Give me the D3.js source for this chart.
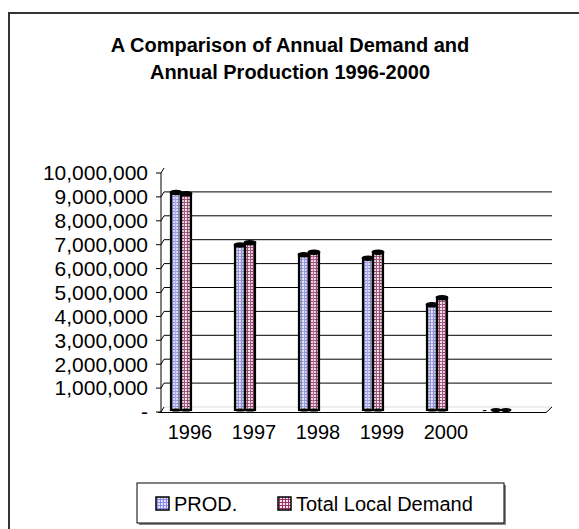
<!DOCTYPE html>
<html><head><meta charset="utf-8">
<script src="https://cdn.jsdelivr.net/npm/d3@7"></script>
<style>body{margin:0;background:#fff}svg{display:block;font-family:"Liberation Sans",Arial,sans-serif}</style>
</head><body><svg id="c" width="579" height="529"></svg>
<script>
const categories = ["1996","1997","1998","1999","2000",""];
const prod = [9100000, 6900000, 6500000, 6350000, 4400000, 0];
const demand = [9050000, 7000000, 6600000, 6600000, 4700000, 0];
const seriesNames = ["PROD.", "Total Local Demand"];
const yTicks = [0,1000000,2000000,3000000,4000000,5000000,6000000,7000000,8000000,9000000,10000000];
const titleLines = ["A Comparison of Annual Demand and","Annual Production 1996-2000"];

const svg = d3.select("#c");
const defs = svg.append("defs");
function pat(id, bg, fg){
  const p = defs.append("pattern").attr("id",id).attr("width",3).attr("height",3).attr("patternUnits","userSpaceOnUse");
  p.append("rect").attr("width",3).attr("height",3).attr("fill",bg);
  p.append("rect").attr("x",1).attr("y",0).attr("width",1).attr("height",3).attr("fill",fg);
  p.append("rect").attr("x",0).attr("y",1).attr("width",3).attr("height",1).attr("fill",fg);
}
pat("pProd","#e4e4ea","#8a8af5");
pat("pDem","#f2e6ec","#993366");
const colors = ["url(#pProd)","url(#pDem)"];
const shade = defs.append("linearGradient").attr("id","shade");
shade.append("stop").attr("offset","0").attr("stop-color","#000").attr("stop-opacity",0.15);
shade.append("stop").attr("offset","0.45").attr("stop-color","#fff").attr("stop-opacity",0.25);
shade.append("stop").attr("offset","1").attr("stop-color","#000").attr("stop-opacity",0.2);

// outer frame
svg.append("rect").attr("x",9).attr("y",13).attr("width",620).attr("height",620).attr("fill","none").attr("stroke","#333").attr("stroke-width",2);

// title
svg.append("g").selectAll("text").data(titleLines).join("text")
  .attr("x",290).attr("y",(d,i)=>52+i*27).attr("text-anchor","middle")
  .attr("font-size",20).attr("font-weight","bold").text(d=>d);

const y = d3.scaleLinear().domain([0,10000000]).range([412,173]);
const x = d3.scaleBand().domain(categories).range([149,533]);
const DX = 3, DY = -5, WALL_R = 552;

// back wall gridlines
svg.append("g").selectAll("line").data(yTicks.filter(t=>t>0 && t<10000000)).join("line")
  .attr("x1",161+DX).attr("x2",WALL_R).attr("y1",d=>y(d)+DY).attr("y2",d=>y(d)+DY)
  .attr("stroke","#000").attr("stroke-width",1);
// floor
svg.append("line").attr("x1",161+DX).attr("x2",WALL_R).attr("y1",y(0)+DY).attr("y2",y(0)+DY).attr("stroke","#ddd");
svg.append("path").attr("d",`M158,${y(0)+0.5}H${WALL_R-6}L${WALL_R},${y(0)+DY}`).attr("fill","none").attr("stroke","#000").attr("stroke-width",1);
// y axis line
svg.append("line").attr("x1",161).attr("x2",161).attr("y1",y(10000000)).attr("y2",y(0)).attr("stroke","#000");
// ticks
const tg = svg.append("g").selectAll("g").data(yTicks).join("g");
tg.append("path").attr("d",d=>`M156,${y(d)}H161L${161+DX},${y(d)+DY}`).attr("fill","none").attr("stroke","#000");
const fmt = d3.format(",");
tg.append("text").attr("x",148).attr("y",d=>y(d)).attr("dy","0.35em").attr("text-anchor","end")
  .attr("font-size",21).text(d=>d===0?"-":fmt(d));

// bars
const bw = 10;
const data = categories.map((c,i)=>({c, vals:[prod[i],demand[i]]}));
data.forEach(d=>{
  const cx = x(d.c)+x.bandwidth()/2;
  d.vals.forEach((v,s)=>{
    const bx = cx - bw + s*bw;
    const top = y(v)-2, bot = y(0)-2;
    const g = svg.append("g");
    if (v>0){
      g.append("rect").attr("x",bx).attr("y",top).attr("width",bw).attr("height",bot-top)
        .attr("fill",colors[s]);
      g.append("rect").attr("x",bx).attr("y",top).attr("width",bw).attr("height",bot-top)
        .attr("fill","url(#shade)").attr("stroke","#000").attr("stroke-width",2.2);
      g.append("ellipse").attr("cx",bx+bw/2).attr("cy",top).attr("rx",bw/2+0.6).attr("ry",2)
        .attr("fill","#000").attr("stroke","#000").attr("stroke-width",1.5);
      g.append("ellipse").attr("cx",bx+bw/2).attr("cy",bot).attr("rx",bw/2).attr("ry",1.5).attr("fill","#000");
    } else {
      g.append("ellipse").attr("cx",bx+bw/2).attr("cy",bot).attr("rx",bw/2+0.5).attr("ry",2).attr("fill","#000");
    }
  });
  if (d.vals[0]===0){
    svg.append("text").attr("x",cx-bw-4).attr("y",y(0)-2).attr("dy","0.35em").attr("text-anchor","end").attr("font-size",14).text("-");
  }
});

// category labels
svg.append("g").selectAll("text").data(categories).join("text")
  .attr("x",d=>x(d)+x.bandwidth()/2+9).attr("y",439).attr("text-anchor","middle")
  .attr("font-size",20).text(d=>d);

// legend
svg.append("rect").attr("x",139).attr("y",485).attr("width",367).attr("height",40).attr("fill","#888");
svg.append("rect").attr("x",137).attr("y",483).attr("width",367).attr("height",40).attr("fill","#fff").attr("stroke","#000").attr("stroke-width",1);
const lx = [156, 278];
const lg = svg.append("g").selectAll("g").data(seriesNames).join("g")
  .attr("transform",(d,i)=>`translate(${lx[i]},0)`);
lg.append("rect").attr("x",0).attr("y",497).attr("width",13).attr("height",13).attr("fill",(d,i)=>colors[i]).attr("stroke","#000").attr("stroke-width",1.5);
lg.append("text").attr("x",18).attr("y",511).attr("font-size",20).text(d=>d);
</script></body></html>
